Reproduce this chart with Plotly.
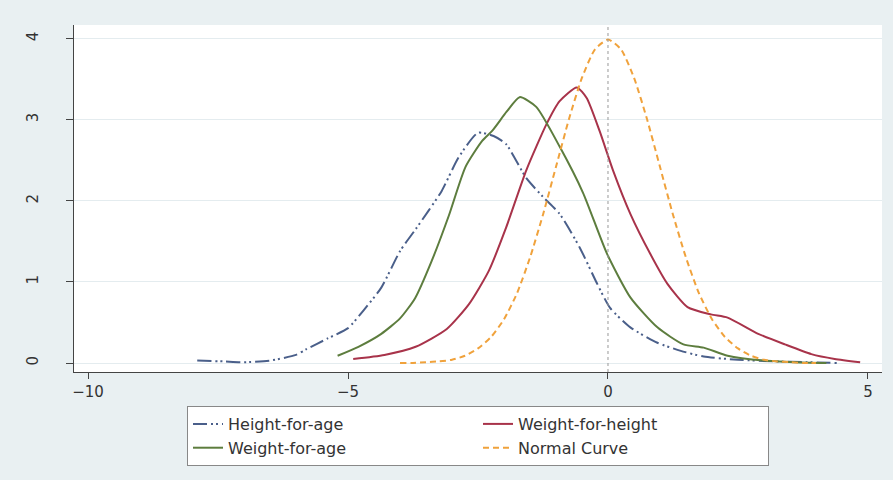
import plotly.graph_objects as go

# Height-for-age
hfa_x = [-7.9, -7.4, -7.0, -6.5, -6.0, -5.8, -5.4, -5.0, -4.7, -4.36, -4.0, -3.7, -3.45, -3.2, -2.87, -2.5,
         -2.2, -1.96, -1.57, -1.25, -0.93, -0.54, -0.21, 0.04, 0.43, 0.95, 1.4, 1.84, 2.5, 3.2, 3.8, 4.4]
hfa_y = [0.03, 0.02, 0.01, 0.03, 0.1, 0.17, 0.3, 0.43, 0.65, 0.93, 1.38, 1.65, 1.88, 2.12, 2.54, 2.84,
         2.8, 2.7, 2.28, 2.05, 1.84, 1.42, 0.98, 0.68, 0.44, 0.25, 0.15, 0.08, 0.04, 0.02, 0.01, 0.0]

# Weight-for-height
wfh_x = [-4.9, -4.3, -3.7, -3.1, -2.67, -2.29, -1.96, -1.57, -1.18, -0.93, -0.6, -0.41, -0.16, 0.1,
         0.43, 0.81, 1.14, 1.53, 1.98, 2.3, 2.89, 3.4, 3.91, 4.36, 4.85]
wfh_y = [0.05, 0.1, 0.2, 0.42, 0.73, 1.14, 1.67, 2.38, 2.95, 3.23, 3.4, 3.27, 2.86, 2.37,
         1.84, 1.35, 0.98, 0.69, 0.6, 0.56, 0.36, 0.23, 0.11, 0.05, 0.01]

# Weight-for-age
wfa_x = [-5.2, -4.8, -4.36, -4.0, -3.71, -3.39, -3.06, -2.74, -2.42, -2.22, -1.95, -1.7, -1.38, -0.93,
         -0.48, -0.02, 0.43, 0.95, 1.45, 1.84, 2.3, 3.0, 3.6, 4.2]
wfa_y = [0.09, 0.2, 0.36, 0.55, 0.8, 1.26, 1.82, 2.42, 2.74, 2.87, 3.1, 3.28, 3.16, 2.67,
         2.1, 1.35, 0.81, 0.44, 0.23, 0.19, 0.09, 0.03, 0.01, 0.0]

# Normal curve
norm_x = [-4.0, -3.75, -3.5, -3.25, -3.0, -2.75, -2.5, -2.25, -2.0, -1.75, -1.5, -1.25, -1.0, -0.75, -0.5, -0.25,
          0.0, 0.25, 0.5, 0.75, 1.0, 1.25, 1.5, 1.75, 2.0, 2.25, 2.5, 2.75, 3.0, 3.25, 3.5, 3.75, 4.0]
norm_y = [0.0, 0.0, 0.01, 0.02, 0.04, 0.09, 0.18, 0.32, 0.54, 0.86, 1.30, 1.83, 2.42, 3.01, 3.52, 3.87,
          3.99, 3.87, 3.52, 3.01, 2.42, 1.83, 1.30, 0.86, 0.54, 0.32, 0.18, 0.09, 0.04, 0.02, 0.01, 0.0, 0.0]

x_ticks = [-10, -5, 0, 5]
y_ticks = [0, 1, 2, 3, 4]
y_labels = ["0", "1", "2", "3", "4"]

FONT = "DejaVu Sans"

fig = go.Figure()
fig.add_trace(go.Scatter(x=hfa_x, y=hfa_y, mode="lines", name="Height-for-age",
                         line=dict(color="#4a5f8a", width=2, dash="14px,4px,2px,3px,2px,4px",
                                   shape="spline", smoothing=0.6)))
fig.add_trace(go.Scatter(x=wfh_x, y=wfh_y, mode="lines", name="Weight-for-height",
                         line=dict(color="#a8334a", width=2, shape="spline", smoothing=0.6)))
fig.add_trace(go.Scatter(x=wfa_x, y=wfa_y, mode="lines", name="Weight-for-age",
                         line=dict(color="#5d7d3e", width=2, shape="spline", smoothing=0.6)))
fig.add_trace(go.Scatter(x=norm_x, y=norm_y, mode="lines", name="Normal Curve",
                         line=dict(color="#f0a23c", width=2, dash="6px,4px", shape="spline", smoothing=0.6)))

fig.add_vline(x=0, line=dict(color="#999999", width=1, dash="dot"))

fig.update_layout(
    width=893, height=480,
    margin=dict(l=74, r=11, t=25, b=108),
    paper_bgcolor="#e9f0f2",
    plot_bgcolor="white",
    font=dict(family=FONT, size=15, color="#333333"),
    showlegend=True,
    legend=dict(orientation="h", x=0.5, xanchor="center", y=-0.098, yanchor="top",
                bgcolor="white", bordercolor="#888888", borderwidth=1,
                entrywidth=245, entrywidthmode="pixels",
                font=dict(family=FONT, size=16, color="#333333"),
                traceorder="normal"),
)
fig.update_xaxes(range=[-10.27, 5.27], tickvals=x_ticks, ticks="outside", ticklen=6,
                 showgrid=False, zeroline=False, showline=True, linecolor="#444444", linewidth=1,
                 tickcolor="#444444", tickfont=dict(family=FONT, size=15, color="#333333"))
fig.update_yaxes(range=[-0.111, 4.17], tickvals=y_ticks, ticktext=y_labels, tickangle=-90,
                 ticks="outside", ticklen=7, ticklabelstandoff=22,
                 showgrid=True, gridcolor="#e4ecef", gridwidth=1,
                 zeroline=False, showline=True, linecolor="#444444", linewidth=1,
                 tickcolor="#444444", tickfont=dict(family=FONT, size=15, color="#333333"))

fig.write_html("out.html")
